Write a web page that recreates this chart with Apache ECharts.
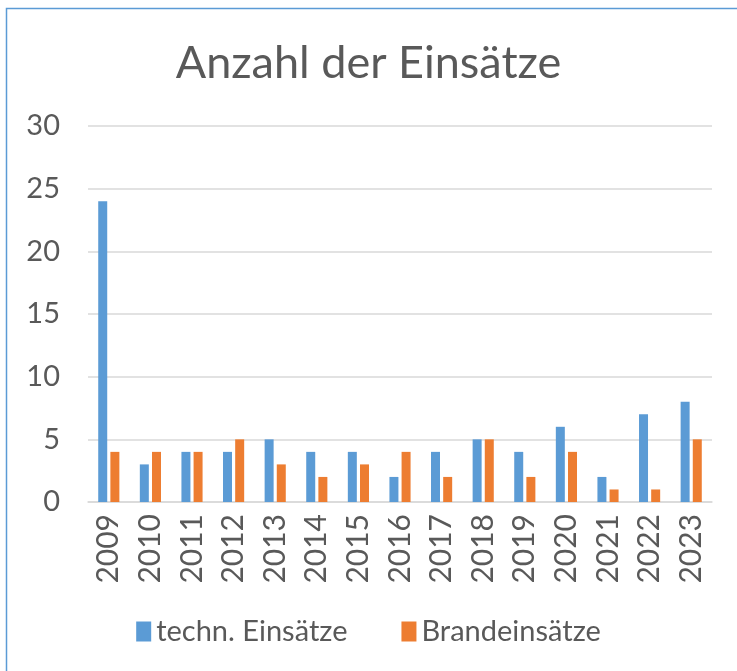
<!DOCTYPE html>
<html>
<head>
<meta charset="utf-8">
<script src="https://cdn.jsdelivr.net/npm/echarts@6/dist/echarts.min.js"></script>
<style>
  html, body { margin: 0; padding: 0; background: #fff; }
  #chart { width: 737px; height: 671px; }
</style>
</head>
<body>
<div id="chart"></div>
<script>
var years = ['2009', '2010', '2011', '2012', '2013', '2014', '2015', '2016', '2017', '2018', '2019', '2020', '2021', '2022', '2023']
var technEinsaetze = [24, 3, 4, 4, 5, 4, 4, 2, 4, 5, 4, 6, 2, 7, 8]
var brandEinsaetze = [4, 4, 4, 5, 3, 2, 3, 4, 2, 5, 2, 4, 1, 1, 5]

var fontFam = 'Lato, "Open Sans", sans-serif'
var chart = echarts.init(document.getElementById('chart'))
var option = {
  animation: false,
  textStyle: { fontFamily: fontFam },
  // Rahmen
  graphic: [{
    type: 'rect',
    shape: { x: 6.5, y: 8.5, width: 800, height: 800 },
    style: { fill: 'none', stroke: '#5B9BD5', lineWidth: 1.5 },
    silent: true
  }],
  title: {
    text: 'Anzahl der Einsätze',
    left: 'center',
    top: 36,
    textStyle: { fontFamily: fontFam, fontWeight: 'normal', fontSize: 45, color: '#595959' }
  },
  legend: {
    bottom: 20,
    left: 'center',
    itemWidth: 15,
    itemHeight: 20,
    itemGap: 54,
    icon: 'rect',
    textStyle: { fontFamily: fontFam, fontSize: 29, color: '#595959' },
    data: ['techn. Einsätze', 'Brandeinsätze']
  },
  grid: { left: 88, right: 25, top: 126, bottom: 169, containLabel: false },
  xAxis: {
    type: 'category',
    data: years,
    axisLine: { lineStyle: { color: '#d9d9d9', width: 1.5 } },
    axisTick: { show: false },
    axisLabel: { rotate: 90, fontSize: 30, color: '#595959', margin: 12, interval: 0 }
  },
  yAxis: {
    type: 'value',
    min: 0,
    max: 30,
    interval: 5,
    axisLine: { show: false },
    axisTick: { show: false },
    splitLine: { lineStyle: { color: '#d9d9d9', width: 1.5 } },
    axisLabel: { fontSize: 29, color: '#595959', margin: 28 }
  },
  series: [{
    name: 'techn. Einsätze',
    type: 'bar',
    data: technEinsaetze,
    barWidth: 9,
    barGap: '35%',
    itemStyle: { color: '#5B9BD5' }
  }, {
    name: 'Brandeinsätze',
    type: 'bar',
    data: brandEinsaetze,
    barWidth: 9,
    itemStyle: { color: '#ED7D31' }
  }]
}
chart.setOption(option)
</script>
</body>
</html>
